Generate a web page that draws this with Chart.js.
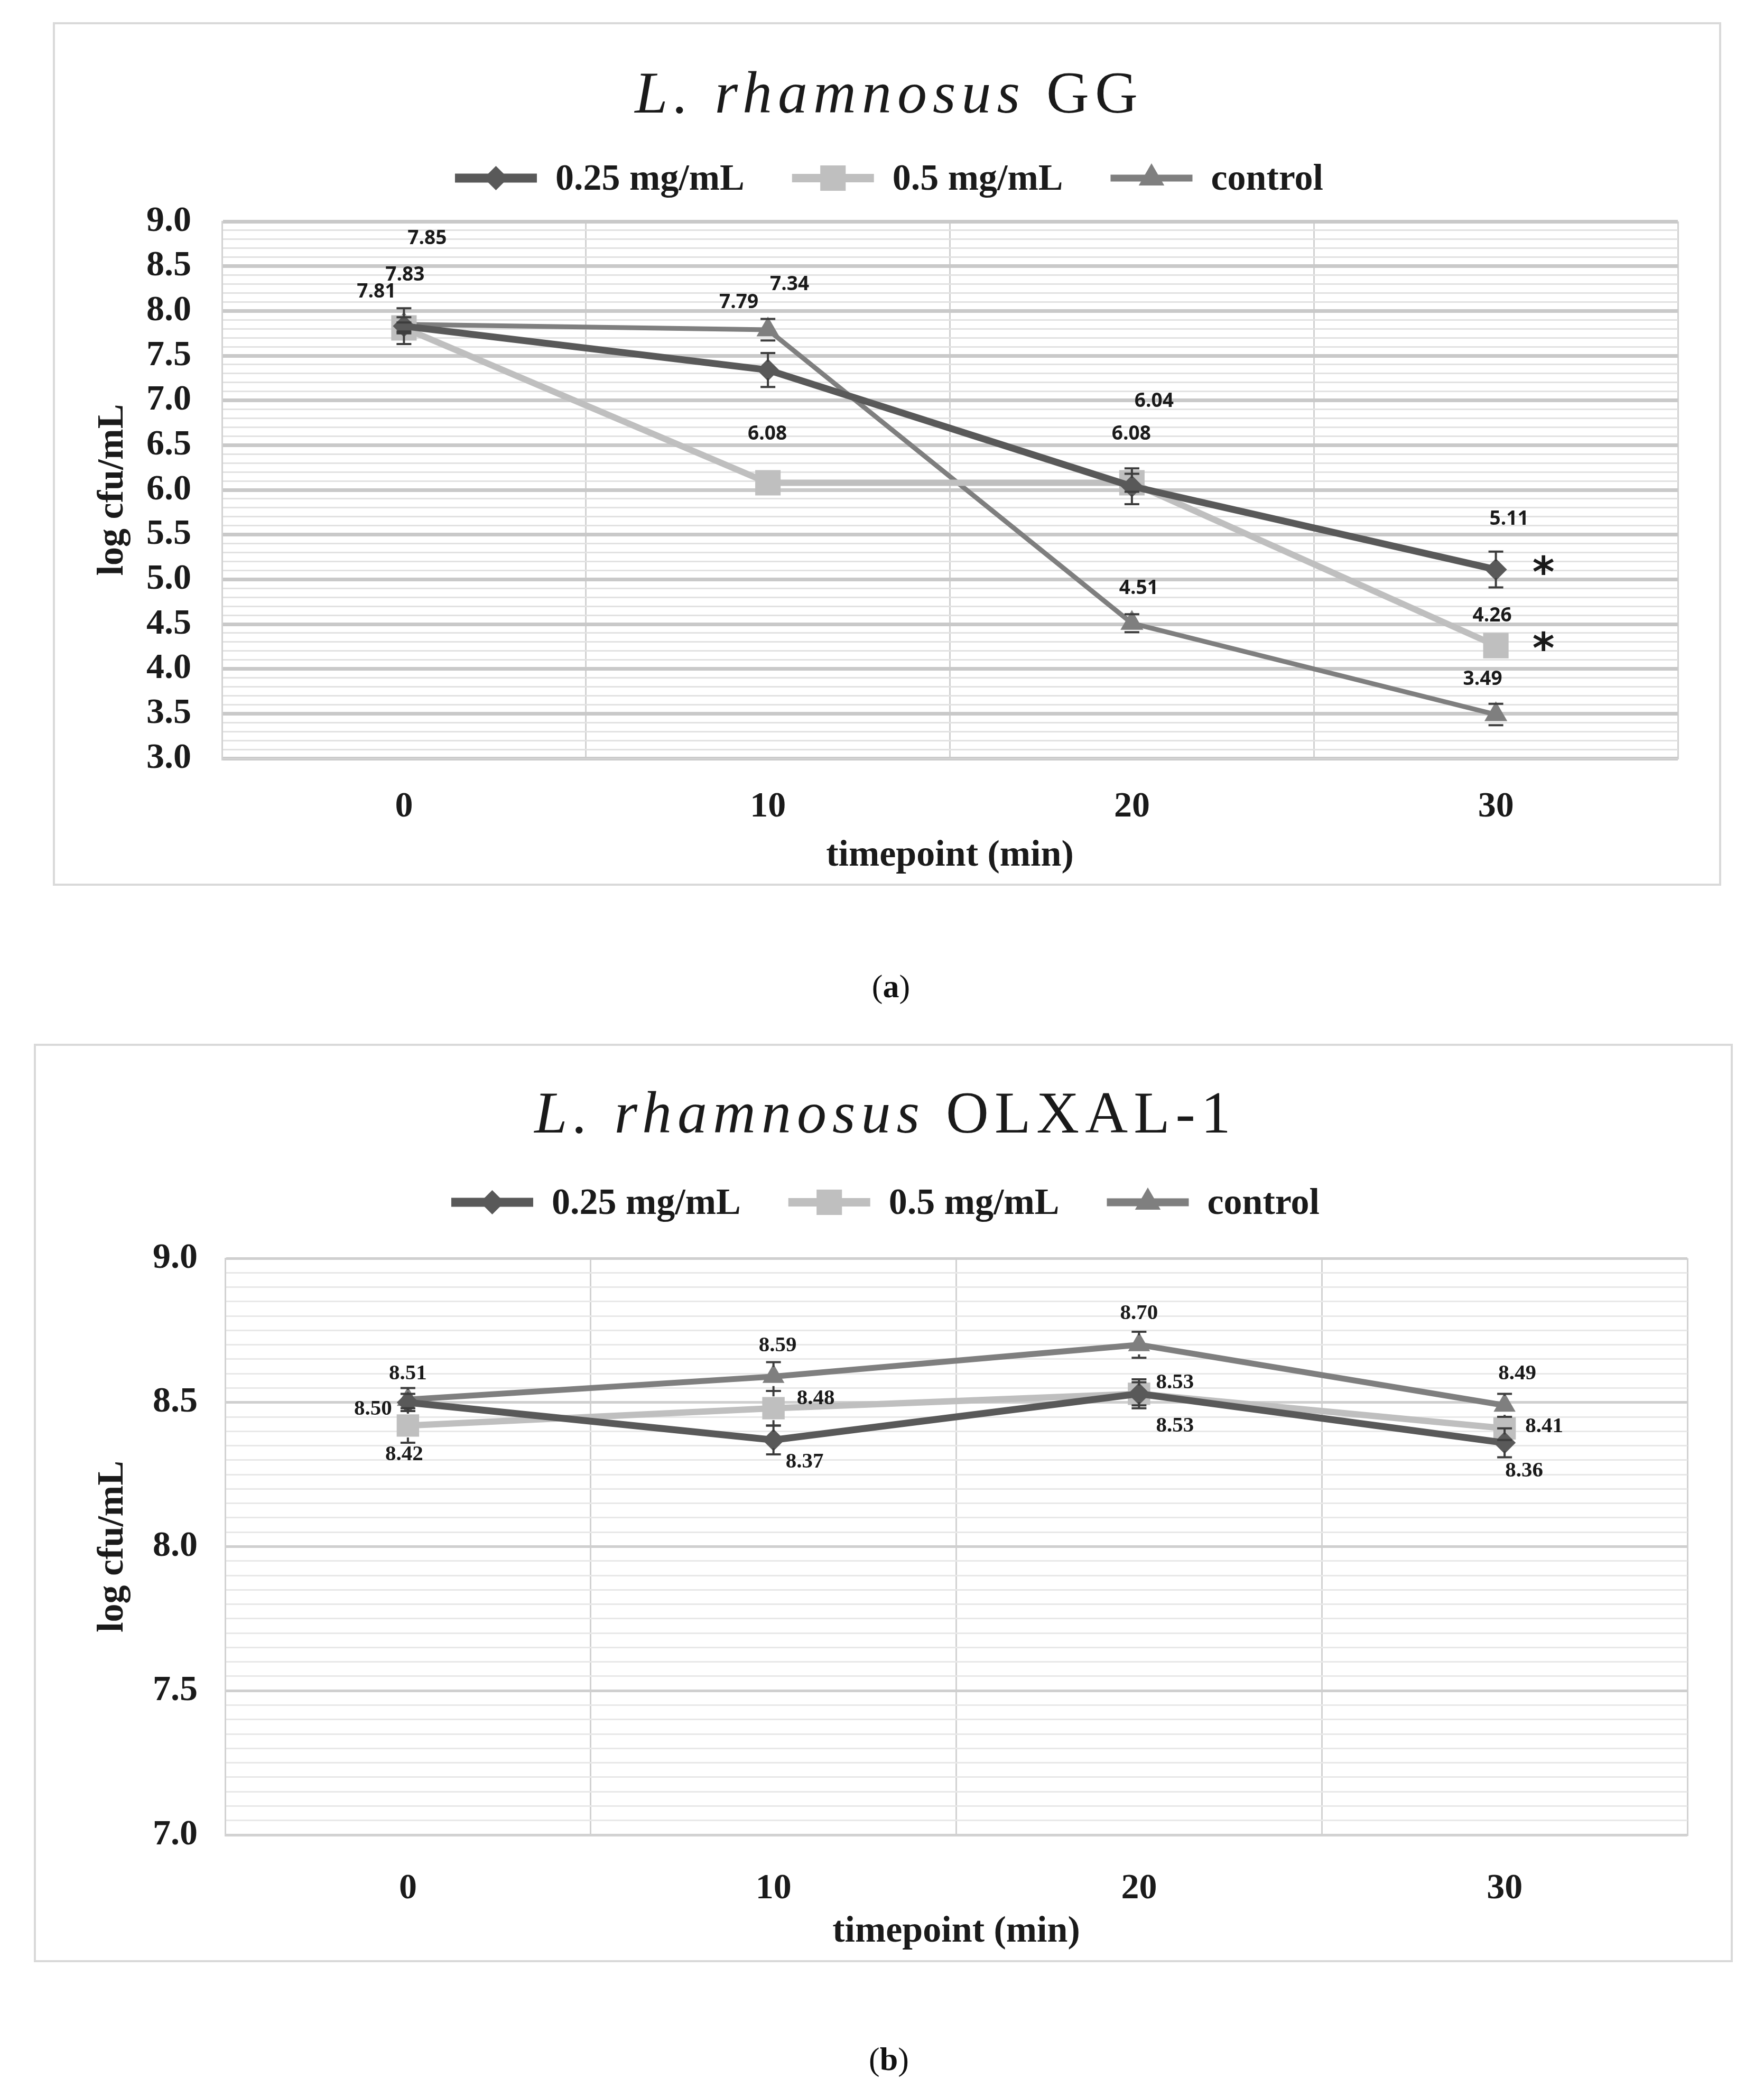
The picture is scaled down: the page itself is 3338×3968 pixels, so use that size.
<!DOCTYPE html>
<html>
<head>
<meta charset="utf-8">
<script src="https://cdn.jsdelivr.net/npm/chart.js@4.4.0/dist/chart.umd.min.js"></script>
<style>
  html, body { margin: 0; padding: 0; background: #fff; }
  body { width: 3338px; height: 3968px; position: relative; overflow: hidden; }
  canvas { position: absolute; }
  .cap { position: absolute; font-family: 'Liberation Serif', serif; font-size: 62px; color: #111; transform: translate(-50%, -50%); }
</style>
</head>
<body>
<canvas id="chartA" width="3157" height="1634" style="left:100px;top:42px;width:3157px;height:1634px"></canvas>
<div class="cap" style="left:1686px;top:1866px">(<b>a</b>)</div>
<canvas id="chartB" width="3215" height="1738" style="left:64px;top:1975px;width:3215px;height:1738px"></canvas>
<div class="cap" style="left:1682px;top:3896px">(<b>b</b>)</div>
<script>
const timepoints = ['0', '10', '20', '30'];
const seriesNames = ['0.25 mg/mL', '0.5 mg/mL', 'control'];

// (a) L. rhamnosus GG
const gg025 = [7.83, 7.34, 6.04, 5.11];
const gg05 = [7.81, 6.08, 6.08, 4.26];
const ggControl = [7.85, 7.79, 4.51, 3.49];
const ggErr025 = [0.20, 0.19, 0.20, 0.20];
const ggErr05 = [0.06, 0, 0.10, 0];
const ggErrControl = [0.08, 0.12, 0.10, 0.12];
const ggStars = [['', '', '', '*'], ['', '', '', '*'], ['', '', '', '']];
const ggYRange = [3, 9];

// (b) L. rhamnosus OLXAL-1
const ol025 = [8.50, 8.37, 8.53, 8.36];
const ol05 = [8.42, 8.48, 8.53, 8.41];
const olControl = [8.51, 8.59, 8.70, 8.49];
const olErr025 = [0.03, 0.05, 0.04, 0.05];
const olErr05 = [0.06, 0.06, 0.05, 0.04];
const olErrControl = [0.04, 0.05, 0.045, 0.04];
const olStars = [['', '', '', ''], ['', '', '', ''], ['', '', '', '']];
const olYRange = [7, 9];

// where the value labels sit, relative to their point (px)
const ggLabelPos = [
  [[2, -97], [41, -162], [42, -161], [25, -95]],
  [[-52, -68], [-1, -92], [-1, -92], [-7, -56]],
  [[44, -162], [-55, -51], [13, -66], [-25, -67]]
];
const olLabelPos = [
  [[-66, 13], [59, 42], [68, 61], [37, 53]],
  [[-7, 55], [80, -18], [68, -21], [75, -3]],
  [[0, -49], [8, -58], [0, -59], [24, -60]]
];

const SERIF = "'Liberation Serif', 'DejaVu Serif', serif";
const colors = ['#595959', '#bfbfbf', '#7f7f7f'];
const styles = ['rectRot', 'rect', 'triangle'];

function drawMarker(ctx, style, x, y, r, color) {
  ctx.save();
  ctx.fillStyle = color;
  ctx.beginPath();
  if (style === 'rectRot') {
    ctx.moveTo(x, y - r); ctx.lineTo(x + r, y); ctx.lineTo(x, y + r); ctx.lineTo(x - r, y);
  } else if (style === 'rect') {
    const s = r * Math.SQRT2;
    ctx.rect(x - s / 2, y - s / 2, s, s);
  } else {
    ctx.moveTo(x, y - r);
    ctx.lineTo(x + r * Math.sin(2 * Math.PI / 3), y - r * Math.cos(2 * Math.PI / 3));
    ctx.lineTo(x + r * Math.sin(4 * Math.PI / 3), y - r * Math.cos(4 * Math.PI / 3));
  }
  ctx.closePath();
  ctx.fill();
  ctx.restore();
}

// border, title and legend
const frame = {
  id: 'frame',
  beforeDraw(chart, args, o) {
    const ctx = chart.ctx, W = chart.width, H = chart.height;
    ctx.save();
    ctx.fillStyle = '#fff';
    ctx.fillRect(0, 0, W, H);
    ctx.strokeStyle = '#d9d9d9';
    ctx.lineWidth = 4;
    ctx.strokeRect(2, 2, W - 4, H - 4);
    ctx.restore();
  },
  afterDraw(chart, args, o) {
    const ctx = chart.ctx, W = chart.width;
    ctx.save();
    // title
    ctx.letterSpacing = '11px';
    ctx.fillStyle = '#1a1a1a';
    ctx.textBaseline = 'alphabetic';
    ctx.font = 'italic 112px ' + SERIF;
    const w1 = ctx.measureText(o.titleItalic).width;
    ctx.font = '112px ' + SERIF;
    const w2 = ctx.measureText(o.titleRest).width;
    let x = (W - w1 - w2) / 2 + 4;
    ctx.font = 'italic 112px ' + SERIF;
    ctx.fillText(o.titleItalic, x, o.titleY);
    ctx.font = '112px ' + SERIF;
    ctx.fillText(o.titleRest, x + w1, o.titleY);
    // legend
    ctx.letterSpacing = '0px';
    ctx.textBaseline = 'middle';
    ctx.font = 'bold 70px ' + SERIF;
    const lineLen = 155, gap = 35, itemGap = 90;
    const ws = seriesNames.map(n => ctx.measureText(n).width);
    let total = ws.reduce((a, b) => a + b, 0) + 3 * (lineLen + gap) + 2 * itemGap;
    x = (W - total) / 2 + 4;
    chart.data.datasets.forEach((ds, i) => {
      ctx.strokeStyle = ds.borderColor;
      ctx.lineWidth = ds.borderWidth + 4;
      ctx.beginPath();
      ctx.moveTo(x, o.legendY); ctx.lineTo(x + lineLen, o.legendY);
      ctx.stroke();
      drawMarker(ctx, ds.pointStyle, x + lineLen / 2, o.legendY, o.legendR[i], ds.borderColor);
      ctx.fillStyle = '#1a1a1a';
      ctx.fillText(seriesNames[i], x + lineLen + gap, o.legendY + 4);
      x += lineLen + gap + ws[i] + itemGap;
    });
    ctx.restore();
  }
};

// error bars, value labels and significance stars
const marks = {
  id: 'marks',
  afterDatasetsDraw(chart, args, o) {
    const ctx = chart.ctx, ys = chart.scales.y;
    ctx.save();
    chart.data.datasets.forEach((ds, i) => {
      const meta = chart.getDatasetMeta(i);
      meta.data.forEach((pt, j) => {
        const v = ds.data[j], e = o.errors[i][j];
        if (!e) return;
        const top = ys.getPixelForValue(v + e), bot = ys.getPixelForValue(v - e);
        const r = ds.pointRadius * 0.75;
        ctx.strokeStyle = '#3d3d3d';
        ctx.lineWidth = 4;
        ctx.beginPath();
        if (pt.y - r > top) { ctx.moveTo(pt.x, top); ctx.lineTo(pt.x, pt.y - r); }
        if (pt.y + r < bot) { ctx.moveTo(pt.x, pt.y + r); ctx.lineTo(pt.x, bot); }
        ctx.moveTo(pt.x - 14, top); ctx.lineTo(pt.x + 14, top);
        ctx.moveTo(pt.x - 14, bot); ctx.lineTo(pt.x + 14, bot);
        ctx.stroke();
      });
    });
    chart.data.datasets.forEach((ds, i) => {
      const meta = chart.getDatasetMeta(i);
      meta.data.forEach((pt, j) => {
        const [dx, dy] = o.labelPos[i][j];
        ctx.font = o.labelFont;
        ctx.fillStyle = '#1a1a1a';
        ctx.textAlign = 'center';
        ctx.textBaseline = 'middle';
        ctx.fillText(ds.data[j].toFixed(2), pt.x + dx, pt.y + dy);
        const star = o.stars[i][j];
        if (star) {
          ctx.font = "bold 80px 'DejaVu Sans', sans-serif";
          ctx.textBaseline = 'alphabetic';
          ctx.fillText(star, pt.x + 90, pt.y - 14 + 46);
        }
      });
    });
    ctx.restore();
  }
};

function isMajor(v) {
  return Math.abs(v * 2 - Math.round(v * 2)) < 1e-6;
}

function buildChart(id, p) {
  const datasets = p.series.map((vals, i) => ({
    label: seriesNames[i],
    data: vals,
    borderColor: colors[i],
    backgroundColor: colors[i],
    borderWidth: p.lineW[i],
    pointStyle: styles[i],
    pointRadius: p.radius[i],
    pointBorderWidth: 0,
    tension: 0
  }));
  const tickFont = { family: SERIF, size: 68, weight: 'bold' };
  const titleFont = { family: SERIF, size: 70, weight: 'bold' };
  return new Chart(document.getElementById(id), {
    type: 'line',
    data: { labels: timepoints, datasets },
    options: {
      responsive: false,
      animation: false,
      devicePixelRatio: 1,
      layout: { padding: { left: 0, top: p.top, right: p.right, bottom: 0 } },
      plugins: {
        legend: { display: false },
        tooltip: { enabled: false },
        frame: { titleItalic: 'L. rhamnosus ', titleRest: p.strain, titleY: p.titleY, legendY: p.legendY, legendR: [23, 34, 28] },
        marks: { errors: p.errors, labelPos: p.labelPos, labelFont: p.labelFont, stars: p.stars }
      },
      scales: {
        x: {
          type: 'category',
          offset: true,
          grid: { offset: true, color: '#d2d2d2', lineWidth: 3, drawTicks: false },
          border: { display: true, color: '#d2d2d2', width: 3 },
          ticks: { font: tickFont, color: '#1a1a1a', padding: p.xTickPad },
          title: { display: true, text: 'timepoint (min)', font: titleFont, color: '#1a1a1a', padding: { top: 0, bottom: p.xTitlePad } },
          afterFit(s) { s.height = 241; }
        },
        y: {
          min: p.yRange[0],
          max: p.yRange[1],
          ticks: {
            stepSize: p.minorStep,
            autoSkip: false,
            maxTicksLimit: 1000,
            font: tickFont,
            color: '#1a1a1a',
            padding: p.yTickPad,
            callback: v => isMajor(v) ? v.toFixed(1) : ''
          },
          grid: {
            drawTicks: false,
            color: c => isMajor(c.tick.value) ? p.majorColor : p.minorColor,
            lineWidth: c => isMajor(c.tick.value) ? p.majorW : 3
          },
          border: { display: true, color: '#d2d2d2', width: 3 },
          title: { display: true, text: 'log cfu/mL', font: titleFont, color: '#1a1a1a', padding: { top: p.yTitlePad, bottom: 0 } },
          afterFit(s) { s.width = p.yAxisW; }
        }
      }
    },
    plugins: [frame, marks]
  });
}

buildChart('chartA', {
  strain: 'GG',
  series: [gg025, gg05, ggControl],
  errors: [ggErr025, ggErr05, ggErrControl],
  stars: ggStars,
  labelPos: ggLabelPos,
  labelFont: "bold 37px 'Open Sans', sans-serif",
  yRange: ggYRange,
  minorStep: 0.1,
  majorColor: '#c9c9c9', minorColor: '#e2e2e2', majorW: 7,
  lineW: [13, 12, 9],
  radius: [21, 34, 25],
  top: 377, right: 82, yAxisW: 320,
  titleY: 171, legendY: 295,
  xTickPad: 52, xTitlePad: 14, yTickPad: 58, yTitlePad: 72
});

buildChart('chartB', {
  strain: 'OLXAL-1',
  series: [ol025, ol05, olControl],
  errors: [olErr025, olErr05, olErrControl],
  stars: olStars,
  labelPos: olLabelPos,
  labelFont: "bold 41px 'Liberation Serif', serif",
  yRange: olYRange,
  minorStep: 0.05,
  majorColor: '#cfcfcf', minorColor: '#e8e8e8', majorW: 5,
  lineW: [13, 12, 11],
  radius: [21, 30, 24],
  top: 406, right: 86, yAxisW: 362,
  titleY: 168, legendY: 300,
  xTickPad: 62, xTitlePad: 15, yTickPad: 52, yTitlePad: 108
});
</script>
</body>
</html>
